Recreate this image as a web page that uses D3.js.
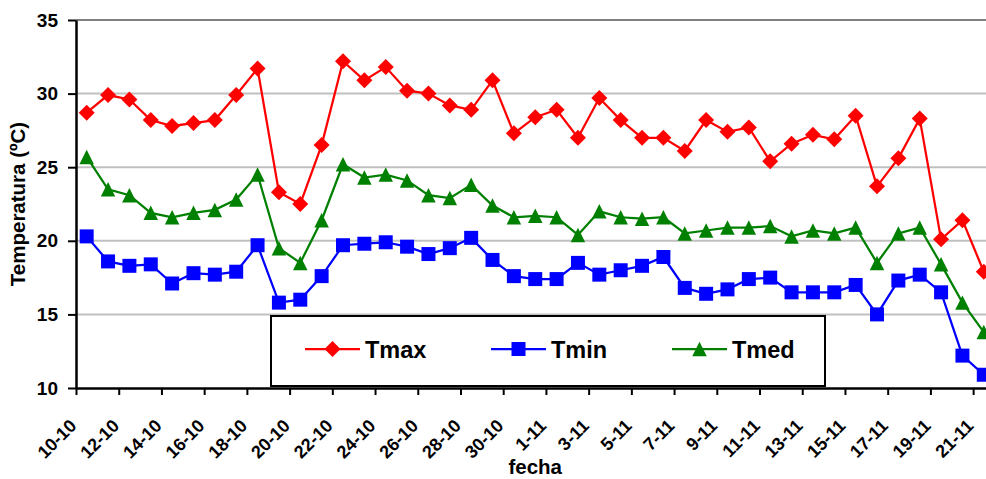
<!DOCTYPE html>
<html>
<head>
<meta charset="utf-8">
<script src="https://cdn.jsdelivr.net/npm/d3@7"></script>
<style>
  html, body { margin: 0; padding: 0; background: #fff; }
  svg { display: block; font-family: "Liberation Sans", Arial, sans-serif; font-weight: bold; }
</style>
</head>
<body>
<svg id="chart" width="986" height="479"></svg>
<script>
// Daily dates (day-month)
const dates = [
  "10-10","11-10","12-10","13-10","14-10","15-10","16-10","17-10","18-10","19-10",
  "20-10","21-10","22-10","23-10","24-10","25-10","26-10","27-10","28-10","29-10",
  "30-10","31-10","1-11","2-11","3-11","4-11","5-11","6-11","7-11","8-11",
  "9-11","10-11","11-11","12-11","13-11","14-11","15-11","16-11","17-11","18-11",
  "19-11","20-11","21-11"
];

// Daily maximum temperature (ºC)
const tmax = [
  28.7, 29.9, 29.6, 28.2, 27.8, 28.0, 28.2, 29.9, 31.7, 23.3,
  22.5, 26.5, 32.2, 30.9, 31.8, 30.2, 30.0, 29.2, 28.9, 30.9,
  27.3, 28.4, 28.9, 27.0, 29.7, 28.2, 27.0, 27.0, 26.1, 28.2,
  27.4, 27.7, 25.4, 26.6, 27.2, 26.9, 28.5, 23.7, 25.6, 28.3,
  20.1, 21.4, 17.9
];

// Daily minimum temperature (ºC)
const tmin = [
  20.3, 18.6, 18.3, 18.4, 17.1, 17.8, 17.7, 17.9, 19.7, 15.8,
  16.0, 17.6, 19.7, 19.8, 19.9, 19.6, 19.1, 19.5, 20.2, 18.7,
  17.6, 17.4, 17.4, 18.5, 17.7, 18.0, 18.3, 18.9, 16.8, 16.4,
  16.7, 17.4, 17.5, 16.5, 16.5, 16.5, 17.0, 15.0, 17.3, 17.7,
  16.5, 12.2, 10.9
];

// Daily mean temperature (ºC)
const tmed = [
  25.7, 23.5, 23.1, 21.9, 21.6, 21.9, 22.1, 22.8, 24.5, 19.5,
  18.5, 21.4, 25.2, 24.3, 24.5, 24.1, 23.1, 22.9, 23.8, 22.4,
  21.6, 21.7, 21.6, 20.4, 22.0, 21.6, 21.5, 21.6, 20.5, 20.7,
  20.9, 20.9, 21.0, 20.3, 20.7, 20.5, 20.9, 18.5, 20.5, 20.9,
  18.4, 15.8, 13.8
];

const yTicks = [10, 15, 20, 25, 30, 35];
const seriesNames = ["Tmax", "Tmin", "Tmed"];
const yTitle = "Temperatura (ºC)";
const xTitle = "fecha";

const svg = d3.select("#chart");

const plotLeft = 76, plotTop = 20, plotBottom = 388;
const step = 21.36;

// Category index scale: each day occupies one band, points at band centres
const x = d3.scaleLinear().domain([0, dates.length]).range([plotLeft, plotLeft + step * dates.length]);
const y = d3.scaleLinear().domain([10, 35]).range([plotBottom, plotTop]);

// Marker shapes
const diamond = {
  draw(ctx, size) {
    const r = Math.sqrt(size) / 2;
    ctx.moveTo(0, -r); ctx.lineTo(r, 0); ctx.lineTo(0, r); ctx.lineTo(-r, 0); ctx.closePath();
  }
};
const square = {
  draw(ctx, size) {
    const r = Math.sqrt(size) / 2;
    ctx.rect(-r, -r, 2 * r, 2 * r);
  }
};
const triangle = {
  draw(ctx, size) {
    const r = Math.sqrt(size) / 2;
    ctx.moveTo(0, -r); ctx.lineTo(r, r); ctx.lineTo(-r, r); ctx.closePath();
  }
};

const series = [
  { name: seriesNames[0], values: tmax, color: "#FF0000", shape: diamond, size: 256 },
  { name: seriesNames[1], values: tmin, color: "#0000FF", shape: square, size: 196 },
  { name: seriesNames[2], values: tmed, color: "#008000", shape: triangle, size: 210 }
];

// Horizontal gridlines
svg.append("g")
  .selectAll("line")
  .data(yTicks.filter(v => v > 10))
  .join("line")
  .attr("x1", plotLeft).attr("x2", x.range()[1])
  .attr("y1", d => y(d)).attr("y2", d => y(d))
  .attr("stroke", d => d === 35 ? "#808080" : "#C0C0C0")
  .attr("stroke-width", 2);

// Series lines and markers
const line = d3.line().x((d, i) => x(i + 0.5)).y(d => y(d));
series.forEach(s => {
  const g = svg.append("g");
  g.append("path")
    .datum(s.values)
    .attr("d", line)
    .attr("fill", "none")
    .attr("stroke", s.color)
    .attr("stroke-width", 2.25);
  g.selectAll("path.m")
    .data(s.values)
    .join("path")
    .attr("class", "m")
    .attr("transform", (d, i) => `translate(${x(i + 0.5)},${y(d)})`)
    .attr("d", d3.symbol().type(s.shape).size(s.size))
    .attr("fill", s.color);
});

// Y axis
const yAxis = svg.append("g")
  .attr("transform", `translate(${plotLeft},0)`)
  .call(d3.axisLeft(y).tickValues(yTicks).tickSize(8).tickSizeOuter(0).tickPadding(10));
yAxis.select(".domain").attr("stroke", "#000").attr("stroke-width", 2.5);
yAxis.selectAll(".tick line").attr("stroke", "#000").attr("stroke-width", 2);
yAxis.selectAll(".tick text")
  .attr("font-size", 19).attr("font-weight", "bold")
  .attr("font-family", "Liberation Sans, Arial, sans-serif")
  .attr("fill", "#000");

// X axis: a tick every second day, at the start of the day's band
const xAxis = svg.append("g")
  .attr("transform", `translate(0,${plotBottom})`)
  .call(d3.axisBottom(x)
    .tickValues(d3.range(0, dates.length, 2))
    .tickFormat(i => dates[i])
    .tickSize(7)
    .tickSizeOuter(0));
xAxis.select(".domain").attr("stroke", "#000").attr("stroke-width", 2.5);
xAxis.selectAll(".tick line").attr("stroke", "#000").attr("stroke-width", 2);
xAxis.selectAll(".tick text")
  .attr("y", null).attr("dy", null)
  .attr("text-anchor", "end")
  .attr("transform", "translate(1,39) rotate(-45)")
  .attr("font-size", 18).attr("font-weight", "bold")
  .attr("font-family", "Liberation Sans, Arial, sans-serif")
  .attr("fill", "#000");

// Axis titles
svg.append("text")
  .attr("transform", `translate(25,${(plotTop + plotBottom) / 2}) rotate(-90)`)
  .attr("text-anchor", "middle")
  .attr("font-size", 20.5)
  .text(yTitle);
svg.append("text")
  .attr("x", (x.range()[0] + x.range()[1]) / 2)
  .attr("y", 474)
  .attr("text-anchor", "middle")
  .attr("font-size", 20.5)
  .text(xTitle);

// Legend
const legend = svg.append("g");
legend.append("rect")
  .attr("x", 271).attr("y", 316).attr("width", 554).attr("height", 70)
  .attr("fill", "#fff").attr("stroke", "#000").attr("stroke-width", 2);
const legendX = [305, 491, 672];
series.forEach((s, k) => {
  const g = legend.append("g").attr("transform", `translate(${legendX[k]},349)`);
  g.append("line").attr("x1", 0).attr("x2", 55).attr("y1", 0).attr("y2", 0)
    .attr("stroke", s.color).attr("stroke-width", 2.25);
  g.append("path")
    .attr("transform", "translate(27.5,0)")
    .attr("d", d3.symbol().type(s.shape).size(s.size))
    .attr("fill", s.color);
  g.append("text")
    .attr("x", 60).attr("y", 8.5)
    .attr("font-size", 23.5)
    .text(s.name);
});
</script>
</body>
</html>
